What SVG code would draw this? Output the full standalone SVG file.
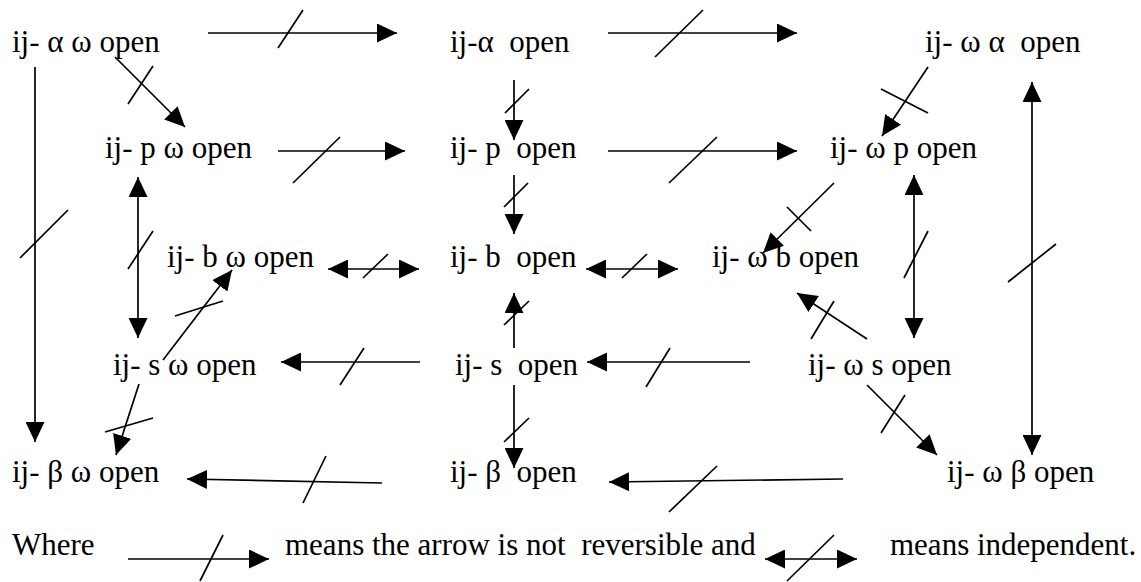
<svg xmlns="http://www.w3.org/2000/svg" width="1141" height="582" viewBox="0 0 1141 582">
<defs>
<style>
text{font-family:"Liberation Serif","Times New Roman",serif;font-size:31px;fill:#000;white-space:pre}
line{stroke:#000;stroke-width:1.7;fill:none}
.a{marker-end:url(#ah)}
.d{marker-start:url(#ah);marker-end:url(#ah)}
</style>
<marker id="ah" markerUnits="userSpaceOnUse" markerWidth="20" markerHeight="19" refX="20" refY="9.5" orient="auto-start-reverse" viewBox="0 0 20 19">
<path d="M0,0 L20,9.5 L0,19 Z" fill="#000"/>
</marker>
</defs>
<rect width="1141" height="582" fill="#fff"/>

<g id="n-aw"><text x="12" y="52">ij- α ω open</text></g>
<g id="n-a"><text x="450" y="52" xml:space="preserve">ij-α  open</text></g>
<g id="n-wa"><text x="925" y="52" xml:space="preserve">ij- ω α  open</text></g>
<g id="n-pw"><text x="105" y="158">ij- p ω open</text></g>
<g id="n-p"><text x="450" y="158" xml:space="preserve">ij- p  open</text></g>
<g id="n-wp"><text x="830" y="158">ij- ω p open</text></g>
<g id="n-bw"><text x="167" y="267">ij- b ω open</text></g>
<g id="n-b"><text x="450" y="267" xml:space="preserve">ij- b  open</text></g>
<g id="n-wb"><text x="712" y="267">ij- ω b open</text></g>
<g id="n-sw"><text x="113" y="375">ij- s ω open</text></g>
<g id="n-s"><text x="455" y="375" xml:space="preserve">ij- s  open</text></g>
<g id="n-ws"><text x="808" y="375">ij- ω s open</text></g>
<g id="n-bew"><text x="12" y="482">ij- β ω open</text></g>
<g id="n-be"><text x="450" y="482" xml:space="preserve">ij- β  open</text></g>
<g id="n-wbe"><text x="947" y="482">ij- ω β open</text></g>

<g id="connectors">
<g><line class="a" x1="208" y1="33" x2="397" y2="33"/><line x1="278" y1="48" x2="303" y2="10"/></g>
<g><line class="a" x1="608" y1="33" x2="797" y2="33"/><line x1="655" y1="57" x2="703" y2="10"/></g>
<g><line class="a" x1="115" y1="57" x2="185" y2="127"/><line x1="128" y1="104" x2="153" y2="66"/></g>
<g><line class="a" x1="278" y1="151" x2="405" y2="151"/><line x1="293" y1="183" x2="340" y2="137"/></g>
<g><line class="a" x1="608" y1="151" x2="797" y2="151"/><line x1="669" y1="183" x2="717" y2="137"/></g>
<g><line class="a" x1="514" y1="80" x2="514" y2="140"/><line x1="505" y1="113" x2="529" y2="89"/></g>
<g><line class="a" x1="928" y1="67" x2="882" y2="136"/><line x1="881" y1="89" x2="928" y2="113"/></g>
<g><line class="d" x1="1032" y1="455" x2="1032" y2="82"/><line x1="1008" y1="282" x2="1056" y2="244"/></g>
<g><line class="a" x1="35" y1="67" x2="35" y2="442"/><line x1="20" y1="258" x2="68" y2="210"/></g>
<g><line class="d" x1="138" y1="338" x2="138" y2="177"/><line x1="128" y1="269" x2="153" y2="231"/></g>
<g><line class="a" x1="514" y1="175" x2="514" y2="234"/><line x1="504" y1="207" x2="528" y2="183"/></g>
<g><line class="d" x1="328" y1="269" x2="419" y2="269"/><line x1="363" y1="278" x2="388" y2="254"/></g>
<g><line class="d" x1="586" y1="269" x2="678" y2="269"/><line x1="622" y1="278" x2="647" y2="254"/></g>
<g><line class="a" x1="834" y1="183" x2="763" y2="253"/><line x1="787" y1="207" x2="811" y2="231"/></g>
<g><line class="d" x1="914" y1="338" x2="914" y2="175"/><line x1="904" y1="278" x2="928" y2="231"/></g>
<g><line class="a" x1="163" y1="360" x2="232" y2="270"/><line x1="175" y1="316" x2="223" y2="301"/></g>
<g><line class="a" x1="514" y1="348" x2="514" y2="293"/><line x1="504" y1="325" x2="529" y2="301"/></g>
<g><line class="a" x1="867" y1="339" x2="797" y2="293"/><line x1="811" y1="339" x2="834" y2="301"/></g>
<g><line class="a" x1="420" y1="362" x2="281" y2="362"/><line x1="340" y1="385" x2="364" y2="348"/></g>
<g><line class="a" x1="750" y1="362" x2="587" y2="362"/><line x1="646" y1="387" x2="670" y2="348"/></g>
<g><line class="a" x1="139" y1="384" x2="116" y2="455"/><line x1="105" y1="432" x2="153" y2="418"/></g>
<g><line class="a" x1="514" y1="385" x2="514" y2="468"/><line x1="504" y1="442" x2="529" y2="418"/></g>
<g><line class="a" x1="843" y1="479" x2="609" y2="482"/><line x1="669" y1="512" x2="717" y2="466"/></g>
<g><line class="a" x1="382" y1="483" x2="187" y2="479"/><line x1="303" y1="503" x2="326" y2="456"/></g>
<g><line class="a" x1="867" y1="385" x2="937" y2="455"/><line x1="881" y1="433" x2="905" y2="395"/></g>
</g>

<g id="legend">
<text x="12" y="555">Where</text>
<line class="a" x1="128" y1="559" x2="269" y2="559"/><line x1="200" y1="581" x2="223" y2="535"/>
<text x="285" y="555" xml:space="preserve">means the arrow is not  reversible and</text>
<line class="d" x1="765" y1="559" x2="857" y2="559"/><line x1="787" y1="581" x2="834" y2="535"/>
<text x="890" y="555">means independent.</text>
</g>
</svg>
